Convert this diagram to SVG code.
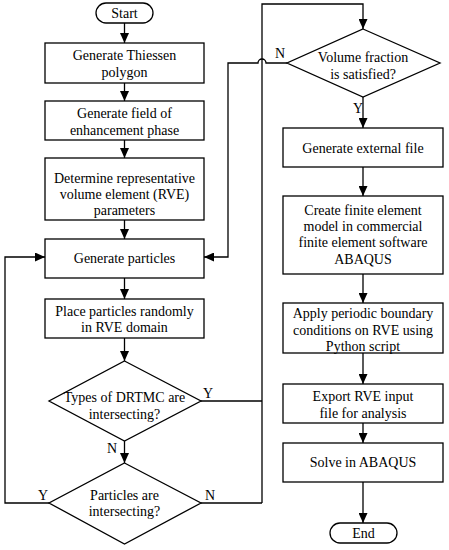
<svg xmlns="http://www.w3.org/2000/svg" width="449" height="550" viewBox="0 0 449 550">
<style>
.s{fill:#fff;stroke:#000;stroke-width:1.3}
.c{fill:none;stroke:#000;stroke-width:1.3}
text{font-family:"Liberation Serif","Times New Roman",serif;font-size:14px;fill:#000;text-anchor:middle}
</style>
<defs>
<marker id="a" markerWidth="10" markerHeight="9" refX="10" refY="4.5" orient="auto" markerUnits="userSpaceOnUse">
<path d="M0,0 L10,4.5 L0,9 Z" fill="#000"/>
</marker>
</defs>
<rect width="449" height="550" fill="#fff"/>
<g id="connectors">
<path class="c" d="M124.5,23 V43" marker-end="url(#a)"/>
<path class="c" d="M124.5,83 V101" marker-end="url(#a)"/>
<path class="c" d="M124.5,140 V158" marker-end="url(#a)"/>
<path class="c" d="M124.5,220 V239" marker-end="url(#a)"/>
<path class="c" d="M124.5,278 V299" marker-end="url(#a)"/>
<path class="c" d="M124.5,338 V361" marker-end="url(#a)"/>
<path class="c" d="M124.5,441 V463" marker-end="url(#a)"/>
<path class="c" d="M49,503 H5 V257 H45" marker-end="url(#a)"/>
<path class="c" d="M201,503 H262"/>
<path class="c" d="M201,401 H262"/>
<path class="c" d="M262,503 V4 H363 V29" marker-end="url(#a)"/>
<path class="c" d="M287,63 H266 A4,4 0 0 0 258,63 H228 V257 H204" marker-end="url(#a)"/>
<path class="c" d="M363,97 V128" marker-end="url(#a)"/>
<path class="c" d="M363,167 V196" marker-end="url(#a)"/>
<path class="c" d="M363,274 V303" marker-end="url(#a)"/>
<path class="c" d="M363,353 V384" marker-end="url(#a)"/>
<path class="c" d="M363,423 V443" marker-end="url(#a)"/>
<path class="c" d="M363,482 V523" marker-end="url(#a)"/>
<text x="208" y="398">Y</text>
<text x="112" y="453">N</text>
<text x="43" y="500">Y</text>
<text x="210" y="500">N</text>
<text x="280" y="58">N</text>
<text x="358" y="113">Y</text>
</g>
<g id="start"><rect class="s" x="96" y="3" width="57" height="20" rx="10"/><text x="124.5" y="18">Start</text></g>
<g id="thiessen"><rect class="s" x="45" y="43" width="159" height="40"/><text x="124.5" y="60">Generate Thiessen</text><text x="124.5" y="77">polygon</text></g>
<g id="field"><rect class="s" x="45" y="101" width="159" height="39"/><text x="124.5" y="118">Generate field of</text><text x="124.5" y="135">enhancement phase</text></g>
<g id="rve"><rect class="s" x="45" y="158" width="159" height="62"/><text x="124.5" y="183">Determine representative</text><text x="124.5" y="199">volume element (RVE)</text><text x="124.5" y="215">parameters</text></g>
<g id="genparticles"><rect class="s" x="45" y="239" width="159" height="39"/><text x="124.5" y="263">Generate particles</text></g>
<g id="place"><rect class="s" x="45" y="299" width="159" height="39"/><text x="124.5" y="316">Place particles randomly</text><text x="124.5" y="332">in RVE domain</text></g>
<g id="types"><path class="s" d="M124.5,361 L201,401 L124.5,441 L49,401 Z"/><text x="124.5" y="402">Types of DRTMC are</text><text x="124.5" y="419">intersecting?</text></g>
<g id="intersect"><path class="s" d="M124.5,463 L201,503 L124.5,544 L49,503 Z"/><text x="124.5" y="500">Particles are</text><text x="124.5" y="516">intersecting?</text></g>
<g id="volume"><path class="s" d="M363,29 L440,63 L363,97 L287,63 Z"/><text x="363" y="62">Volume fraction</text><text x="363" y="79">is satisfied?</text></g>
<g id="external"><rect class="s" x="283" y="128" width="160" height="39"/><text x="363" y="153">Generate external file</text></g>
<g id="fem"><rect class="s" x="283" y="196" width="160" height="78"/><text x="363" y="215">Create finite element</text><text x="363" y="231">model in commercial</text><text x="363" y="247">finite element software</text><text x="363" y="264">ABAQUS</text></g>
<g id="periodic"><rect class="s" x="283" y="303" width="160" height="50"/><text x="363" y="318">Apply periodic boundary</text><text x="363" y="335">conditions on RVE using</text><text x="363" y="351">Python script</text></g>
<g id="export"><rect class="s" x="283" y="384" width="160" height="39"/><text x="363" y="401">Export RVE input</text><text x="363" y="418">file for analysis</text></g>
<g id="solve"><rect class="s" x="283" y="443" width="160" height="39"/><text x="363" y="467">Solve in ABAQUS</text></g>
<g id="end"><rect class="s" x="330" y="523" width="67" height="20" rx="10"/><text x="363.5" y="538">End</text></g>
</svg>
